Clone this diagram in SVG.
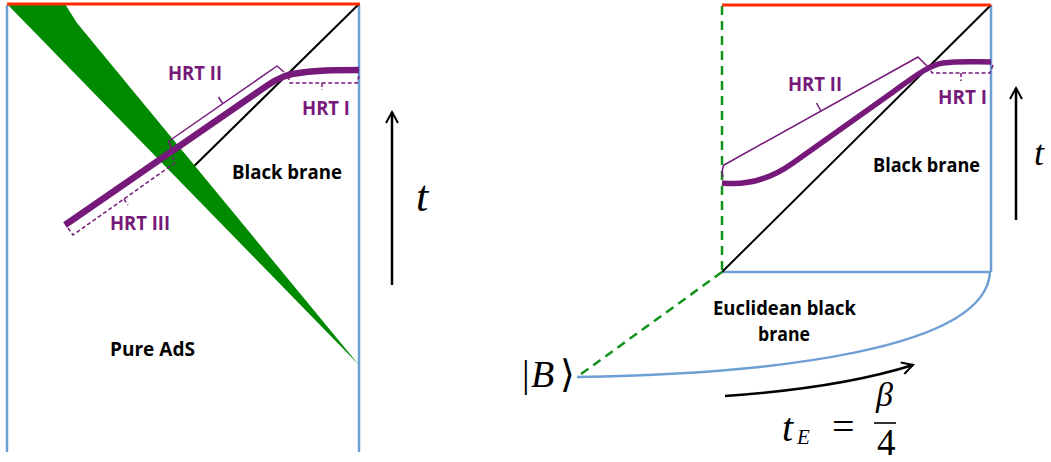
<svg xmlns="http://www.w3.org/2000/svg" width="1051" height="462" viewBox="0 0 1051 462">
<style>
.blue{stroke:#6d9fd5;stroke-width:2.5;fill:none}
.red{stroke:#ff2a00;stroke-width:3;fill:none}
.blk{stroke:#000;stroke-width:2;fill:none}
.thick{stroke:#77197b;fill:none;stroke-linecap:butt;stroke-linejoin:round}
.br{stroke:#77197b;stroke-width:1.5;fill:none;stroke-linejoin:round}
.dash{stroke-dasharray:4 2.5}
.gdash{stroke:#11921a;stroke-width:2.5;stroke-dasharray:9 6;fill:none}
.arr{stroke:#000;stroke-width:2.5;fill:none}
.lbl{font-family:"Open Sans","Liberation Sans",sans-serif;font-weight:700;font-size:19px;fill:#000}
.hrt{fill:#77197b}
.m{font-family:"Liberation Serif","DejaVu Serif",serif;font-style:italic;fill:#000}
.mr{font-family:"Liberation Serif","DejaVu Serif",serif;fill:#000}
</style>
<defs>
<marker id="chev" markerWidth="16" markerHeight="16" refX="12" refY="7" orient="auto" markerUnits="userSpaceOnUse" overflow="visible">
<path d="M1,1 L12,7 L1,13" fill="none" stroke="#000" stroke-width="2"/>
</marker>
</defs>
<rect width="1051" height="462" fill="#fff"/>

<g id="left-panel">
<line class="blue" x1="7" y1="5" x2="7" y2="452"/>
<line class="blue" x1="359" y1="5" x2="359" y2="452"/>
<line class="blk" x1="359" y1="4" x2="180" y2="180"/>
<path id="shell" d="M8,5 L65,4 Q70,12 77,23 L359,365 Z" fill="#008a00"/>
<line class="red" x1="7" y1="4" x2="360" y2="4"/>
<path class="thick" stroke-width="6.5" d="M65,225 L255,94 C268,85 278,77 292,74 C315,70 335,70 359,70"/>
<path class="br" d="M171,149 L169,141 L277,66 L284,72 M223,104 L218.5,97"/>
<path class="br dash" d="M288,76 L290,83 L357,83 L359,76 M322,83 L322,90"/>
<path class="br dash" d="M68,228 L73,235 L175,163 L173,157 M124,199 L128,205"/>
<text class="lbl hrt" x="168" y="80" textLength="54" lengthAdjust="spacingAndGlyphs">HRT II</text>
<text class="lbl hrt" x="302" y="115" textLength="48" lengthAdjust="spacingAndGlyphs">HRT I</text>
<text class="lbl hrt" x="110" y="230" textLength="60" lengthAdjust="spacingAndGlyphs">HRT III</text>
<text class="lbl" x="232" y="179" textLength="110" lengthAdjust="spacingAndGlyphs">Black brane</text>
<text class="lbl" x="110" y="356" textLength="85" lengthAdjust="spacingAndGlyphs">Pure AdS</text>
</g>

<g id="left-time">
<line class="arr" x1="392" y1="285" x2="392" y2="112" marker-end="url(#chev)"/>
<text class="m" x="416" y="211" font-size="44">t</text>
</g>

<g id="right-panel">
<line class="blue" x1="991" y1="5" x2="991" y2="272"/>
<line class="blue" x1="722" y1="272" x2="991" y2="272"/>
<line class="gdash" x1="722" y1="6" x2="722" y2="272"/>
<line class="blk" stroke-width="1.6" x1="722" y1="272" x2="991" y2="5"/>
<line class="red" x1="722" y1="5" x2="991" y2="5"/>
<path class="thick" stroke-width="5.5" d="M722,183 C740,185 765,183 793,163 L893,92 C910,80 928,65 943,63 C960,61 975,62 991,62"/>
<path class="br" d="M723,177 Q721,170 724,165 L918,57 L927,66 M821,111 L816.5,103"/>
<path class="br dash" d="M928,65 L932,73 L990,73 L993,65 M961,73 L961,81"/>
<text class="lbl hrt" x="788" y="91" textLength="54" lengthAdjust="spacingAndGlyphs">HRT II</text>
<text class="lbl hrt" x="938" y="104" textLength="49" lengthAdjust="spacingAndGlyphs">HRT I</text>
<text class="lbl" x="873" y="172" textLength="107" lengthAdjust="spacingAndGlyphs">Black brane</text>
</g>

<g id="right-time">
<line class="arr" x1="1016" y1="220" x2="1016" y2="88" marker-end="url(#chev)"/>
<text class="m" x="1034" y="165" font-size="36">t</text>
</g>

<g id="euclidean">
<path class="blue" d="M990,272 C986,350 770,374 577,377"/>
<line class="gdash" x1="722" y1="272" x2="577" y2="377"/>
<text class="lbl" x="713" y="315" textLength="143" lengthAdjust="spacingAndGlyphs">Euclidean black</text>
<text class="lbl" x="758" y="341" textLength="52" lengthAdjust="spacingAndGlyphs">brane</text>
</g>

<g id="state-B">
<text class="mr" x="522" y="387" font-size="38">|</text>
<text class="m" x="531" y="387" font-size="38">B</text>
<text class="mr" x="560" y="387" font-size="38">⟩</text>
</g>

<g id="connectors">
<path d="M725,396 Q840,388 913,365" stroke="#000" stroke-width="2.5" fill="none" marker-end="url(#chev)"/>
</g>

<g id="tE-label">
<text class="m" x="782" y="441" font-size="40">t</text>
<text class="m" x="797" y="444" font-size="21">E</text>
<text class="mr" x="832" y="440" font-size="40">=</text>
<text class="m" x="876" y="406" font-size="34">β</text>
<line x1="874" y1="423" x2="896" y2="423" stroke="#000" stroke-width="1.6"/>
<text class="mr" x="877" y="455" font-size="37">4</text>
</g>
</svg>
